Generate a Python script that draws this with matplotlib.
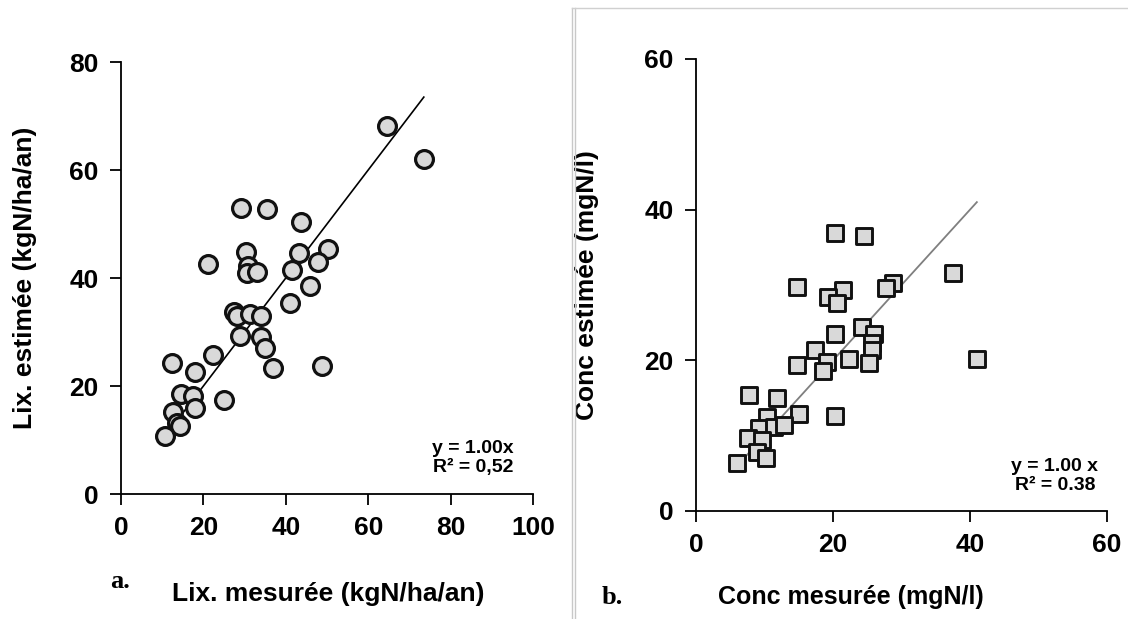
import matplotlib
matplotlib.use("Agg")
import matplotlib.pyplot as plt
from matplotlib.lines import Line2D
import numpy as np

# panel a: leaching, measured vs estimated (kgN/ha/an)
lix_mes = [64.6, 73.5, 29.1, 35.4, 43.7, 21.1, 30.3, 30.8, 30.6, 33.0, 43.2, 41.5,
           50.2, 47.8, 45.9, 41.0, 27.4, 28.2, 31.3, 34.0, 28.9, 34.0, 35.0, 36.9,
           48.8, 22.3, 12.4, 18.0, 14.6, 17.5, 18.0, 25.0, 12.6, 13.6, 14.3, 10.7]
lix_est = [68.1, 62.0, 53.0, 52.8, 50.4, 42.6, 44.8, 42.2, 40.9, 41.1, 44.6, 41.5,
           45.4, 43.0, 38.5, 35.4, 33.7, 32.9, 33.3, 33.0, 29.3, 29.1, 27.0, 23.3,
           23.7, 25.7, 24.3, 22.6, 18.5, 18.2, 15.9, 17.4, 15.2, 13.1, 12.6, 10.7]

# panel b: concentration, measured vs estimated (mgN/l)
conc_mes = [20.3, 24.5, 14.7, 21.5, 19.3, 20.6, 28.8, 27.7, 37.5, 24.2, 26.0, 25.7,
            25.7, 20.3, 17.4, 22.3, 25.3, 14.7, 19.1, 18.5, 41.0, 7.7, 11.8, 15.0,
            20.3, 10.4, 9.2, 11.4, 12.8, 7.6, 9.6, 8.9, 10.2, 6.0]
conc_est = [36.9, 36.5, 29.7, 29.3, 28.4, 27.6, 30.3, 29.6, 31.6, 24.4, 23.5, 22.3,
            21.4, 23.5, 21.4, 20.2, 19.7, 19.4, 19.8, 18.6, 20.2, 15.4, 15.0, 12.9,
            12.6, 12.5, 11.0, 11.2, 11.4, 9.7, 9.4, 7.8, 7.0, 6.4]

slope_a, r2_a = 1.00, "0,52"
slope_b, r2_b = 1.00, "0.38"

plt.rcParams['font.family'] = ['Liberation Sans', 'DejaVu Sans']
plt.rcParams['font.weight'] = 'bold'

W, H = 1128, 619
fig = plt.figure(figsize=(W / 100, H / 100), dpi=100)


def box(x0, x1, y0, y1):
    # pixel box -> figure fraction
    return [x0 / W, 1 - y1 / H, (x1 - x0) / W, (y1 - y0) / H]


def style(ax):
    for s in ['top', 'right']:
        ax.spines[s].set_visible(False)
    for s in ['left', 'bottom']:
        ax.spines[s].set_linewidth(1.3)
        ax.spines[s].set_color('black')
    ax.tick_params(direction='out', length=8, width=1.3, labelsize=19, pad=8)
    for lab in ax.get_xticklabels() + ax.get_yticklabels():
        lab.set_fontweight('bold')


# ---- panel a
ax1 = fig.add_axes(box(121, 533, 62, 494))
ax1.scatter(lix_mes, lix_est, s=165, marker='o', facecolor='#d9d9d9',
            edgecolor='#111111', linewidth=2.3, zorder=3, clip_on=False)
xa = np.array([min(lix_mes), max(lix_mes)])
ax1.plot(xa, slope_a * xa, color='black', lw=1.2, zorder=2)
ax1.set_xlim(0, 100)
ax1.set_ylim(0, 80)
ax1.set_xticks([0, 20, 40, 60, 80, 100])
ax1.set_yticks([0, 20, 40, 60, 80])
style(ax1)
ax1.set_ylabel('Lix. estimée (kgN/ha/an)', fontsize=19, fontweight='bold')
ax1.yaxis.set_label_coords(-0.205, 0.5)
ax1.text(0.855, 0.083, 'y = %.2fx\nR² = %s' % (slope_a, r2_a), transform=ax1.transAxes,
         ha='center', va='center', fontsize=14, fontweight='bold', linespacing=1.15)

# ---- panel b
ax2 = fig.add_axes(box(696, 1107, 59, 511))
ax2.scatter(conc_mes, conc_est, s=125, marker='s', facecolor='#d9d9d9',
            edgecolor='#111111', linewidth=2.1, zorder=3, clip_on=False)
xb = np.array([min(conc_mes), max(conc_mes)])
ax2.plot(xb, slope_b * xb, color='#7f7f7f', lw=1.3, zorder=2)
ax2.set_xlim(0, 60)
ax2.set_ylim(0, 60)
ax2.set_xticks([0, 20, 40, 60])
ax2.set_yticks([0, 20, 40, 60])
style(ax2)
ax2.set_ylabel('Conc estimée (mgN/l)', fontsize=19, fontweight='bold')
ax2.yaxis.set_label_coords(-0.236, 0.5)
ax2.text(0.873, 0.077, 'y = %.2f x\nR² = %s' % (slope_b, r2_b), transform=ax2.transAxes,
         ha='center', va='center', fontsize=14, fontweight='bold', linespacing=1.15)

# bottom labels
fig.text(328 / W, 1 - 594 / H, 'Lix. mesurée (kgN/ha/an)', ha='center', va='center',
         fontsize=19, fontweight='bold')
fig.text(851 / W, 1 - 597 / H, 'Conc mesurée (mgN/l)', ha='center', va='center',
         fontsize=18, fontweight='bold')
fig.text(120 / W, 1 - 582 / H, 'a.', ha='center', va='center', fontsize=19,
         fontweight='bold', family='Liberation Serif')
fig.text(612 / W, 1 - 597 / H, 'b.', ha='center', va='center', fontsize=19,
         fontweight='bold', family='Liberation Serif')

# frame lines around panel b
fig.add_artist(Line2D([572 / W, 572 / W], [0, 1 - 8 / H], color='#c8c8c8', lw=1))
fig.add_artist(Line2D([575 / W, 575 / W], [0, 1 - 8 / H], color='#c8c8c8', lw=1))
fig.add_artist(Line2D([572 / W, 1], [1 - 8 / H, 1 - 8 / H], color='#d0d0d0', lw=1))

fig.savefig('out.png', dpi=100)
